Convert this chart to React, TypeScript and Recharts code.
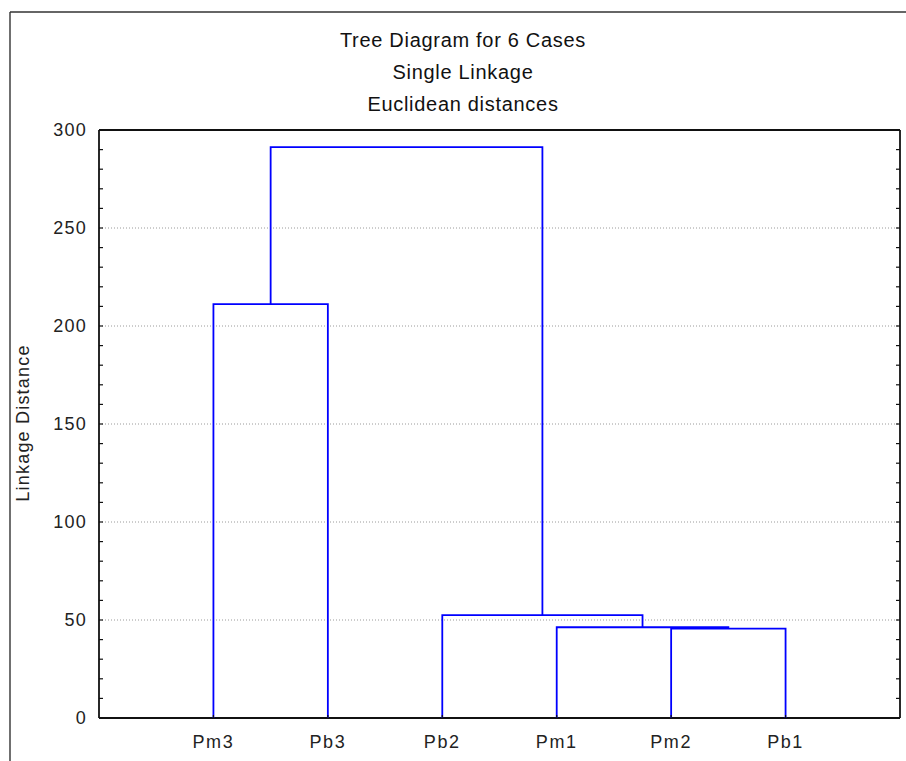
import React from 'react';
import { ComposedChart, XAxis, YAxis, Scatter, ReferenceLine } from 'recharts';

// ---- data ----
const leaves = ['Pm3', 'Pb3', 'Pb2', 'Pm1', 'Pm2', 'Pb1'];
// linkage rows (scipy-style: ids >= leaves.length refer to earlier merges)
const mergeLeft = [4, 3, 2, 0, 9];
const mergeRight = [5, 6, 7, 1, 8];
const mergeHeight = [45.6, 46.3, 52.5, 211.2, 291.3];

const yTicks = [0, 10, 20, 30, 40, 50, 60, 70, 80, 90, 100, 110, 120, 130, 140, 150, 160, 170, 180, 190, 200, 210, 220, 230, 240, 250, 260, 270, 280, 290, 300];
const yLabelTicks = [0, 50, 100, 150, 200, 250, 300];
const gridValues = [50, 100, 150, 200, 250];
const xTicks = [1, 2, 3, 4, 5, 6];
const xDomain = [0, 7];
const yDomain = [0, 300];
const titleLines = ['Tree Diagram for 6 Cases', 'Single Linkage', 'Euclidean distances'];
const yAxisTitle = 'Linkage Distance';

type Pt = { x: number; y: number };

function buildLinks(): Pt[][] {
  const xs: number[] = leaves.map((_, i) => i + 1);
  const ys: number[] = leaves.map(() => 0);
  const links: Pt[][] = [];
  for (let k = 0; k < mergeHeight.length; k++) {
    const a = mergeLeft[k];
    const b = mergeRight[k];
    const h = mergeHeight[k];
    links.push([
      { x: xs[a], y: ys[a] },
      { x: xs[a], y: h },
      { x: xs[b], y: h },
      { x: xs[b], y: ys[b] },
    ]);
    xs.push((xs[a] + xs[b]) / 2);
    ys.push(h);
  }
  return links;
}

const links = buildLinks();

const FONT = '"Liberation Sans", Arial, sans-serif';
const AXIS = '#111';
const BLUE = '#0000ff';

const LEFT_MARGIN = 12;
const BOTTOM_MARGIN = 17;
const RIGHT_TICK = 0.035; // inward tick length on the right frame, in x units

const LeftTick = (props: any) => {
  const { x, y, payload } = props;
  const v = payload.value as number;
  const axisX = x + LEFT_MARGIN;
  return (
    <g>
      <line x1={axisX} y1={y} x2={axisX + 4} y2={y} stroke={AXIS} strokeWidth={1.2} />
      {yLabelTicks.includes(v) && (
        <text x={x} y={y} dy="0.36em" textAnchor="end" fontFamily={FONT} fontSize={18} letterSpacing={1.2} fill="#222">
          {v}
        </text>
      )}
    </g>
  );
};

const TopTick = (props: any) => {
  const { x, y } = props;
  return <line x1={x} y1={y} x2={x} y2={y + 5} stroke={AXIS} strokeWidth={1.2} />;
};

const BottomTick = (props: any) => {
  const { x, y, payload } = props;
  const v = payload.value as number;
  const axisY = y - BOTTOM_MARGIN;
  return (
    <g>
      <line x1={x} y1={axisY - 3} x2={x} y2={axisY} stroke={AXIS} strokeWidth={1.2} />
      <text x={x} y={y} dy="0.72em" textAnchor="middle" fontFamily={FONT} fontSize={18} letterSpacing={1.6} fill="#222">
        {leaves[v - 1]}
      </text>
    </g>
  );
};

const NoShape = () => <g />;

export default function App() {
  return (
    <div style={{ position: 'fixed', left: 0, top: 0, width: 906, height: 761, overflow: 'hidden', background: '#fff' }}>
      <ComposedChart width={906} height={761} margin={{ top: 129, right: 6, bottom: 13, left: 39 }}>
        <XAxis
          type="number"
          dataKey="x"
          domain={xDomain}
          allowDataOverflow
          ticks={xTicks}
          interval={0}
          tickSize={0}
          tickMargin={BOTTOM_MARGIN}
          tickLine={false}
          height={30}
          axisLine={{ stroke: AXIS, strokeWidth: 1.8 }}
          tick={<BottomTick />}
        />
        <XAxis
          xAxisId="top"
          orientation="top"
          type="number"
          domain={xDomain}
          allowDataOverflow
          ticks={xTicks}
          interval={0}
          tickSize={0}
          tickMargin={0}
          tickLine={false}
          height={1}
          axisLine={false}
          tick={<TopTick />}
        />
        <YAxis
          type="number"
          dataKey="y"
          domain={yDomain}
          allowDataOverflow
          ticks={yTicks}
          interval={0}
          tickSize={0}
          tickMargin={LEFT_MARGIN}
          tickLine={false}
          width={60}
          axisLine={{ stroke: AXIS, strokeWidth: 1.8 }}
          tick={<LeftTick />}
        />
        {gridValues.map((v) => (
          <ReferenceLine key={'g' + v} y={v} stroke="#9a9a9a" strokeWidth={1} strokeDasharray="1 2" />
        ))}
        <ReferenceLine y={yDomain[1]} stroke={AXIS} strokeWidth={1.8} />
        <ReferenceLine x={xDomain[1]} stroke={AXIS} strokeWidth={1.8} />
        {yTicks.map((v) => (
          <ReferenceLine
            key={'r' + v}
            segment={[
              { x: xDomain[1], y: v },
              { x: xDomain[1] - RIGHT_TICK, y: v },
            ]}
            stroke={AXIS}
            strokeWidth={1.2}
          />
        ))}
        {links.map((pts, i) => (
          <Scatter
            key={i}
            data={pts}
            dataKey="y"
            fill={BLUE}
            line={{ stroke: BLUE, strokeWidth: 1.8 }}
            lineType="joint"
            shape={<NoShape />}
            isAnimationActive={false}
            legendType="none"
          />
        ))}
      </ComposedChart>
      <svg width={906} height={761} style={{ position: 'absolute', left: 0, top: 0, pointerEvents: 'none' }}>
        <line x1={10} y1={12} x2={906} y2={12} stroke="#333" strokeWidth={1.4} />
        <line x1={10} y1={12} x2={10} y2={761} stroke="#333" strokeWidth={1.4} />
        {titleLines.map((t, i) => (
          <text key={t} x={463} y={47 + i * 32} textAnchor="middle" fontFamily={FONT} fontSize={20} letterSpacing={0.7} fill="#111">
            {t}
          </text>
        ))}
        <text x={29} y={423} transform="rotate(-90 29 423)" textAnchor="middle" fontFamily={FONT} fontSize={18} letterSpacing={1.2} fill="#222">
          {yAxisTitle}
        </text>
      </svg>
    </div>
  );
}
